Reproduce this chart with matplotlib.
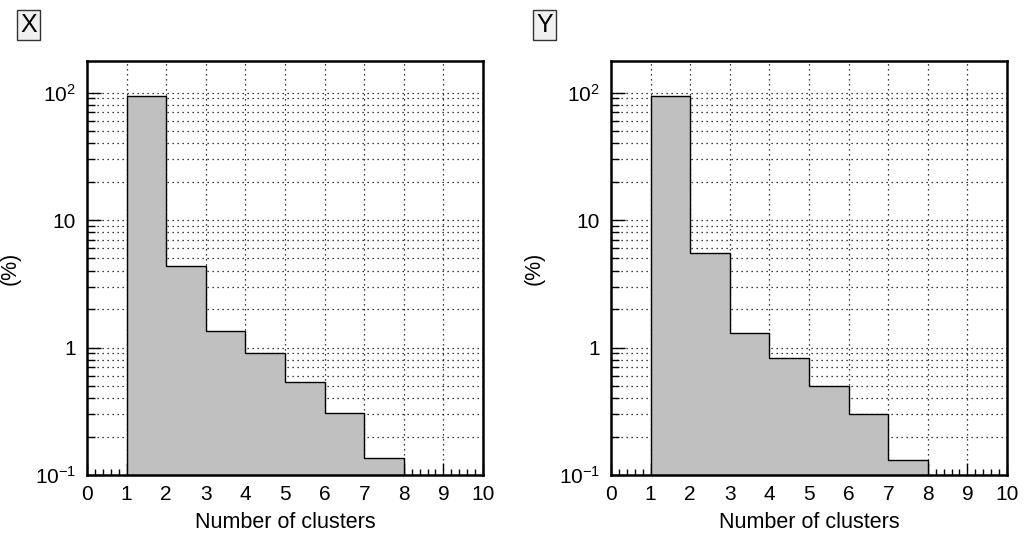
import numpy as np
import matplotlib.pyplot as plt
from matplotlib.ticker import FixedLocator, MultipleLocator, NullFormatter

plt.rcParams['font.family'] = ['Liberation Sans', 'DejaVu Sans']
plt.rcParams['mathtext.fontset'] = 'custom'
plt.rcParams['mathtext.rm'] = 'Liberation Sans'
plt.rcParams['mathtext.it'] = 'Liberation Sans:italic'

# bin edges (number of clusters) and percentages per bin
edges = [1, 2, 3, 4, 5, 6, 7, 8]
pct_x = [94.0, 4.4, 1.35, 0.90, 0.54, 0.305, 0.137]
pct_y = [94.0, 5.5, 1.29, 0.83, 0.50, 0.30, 0.13]
panel_names = ['X', 'Y']

ytick_vals = [0.1, 1, 10, 100]
ytick_labels = ['$10^{-1}$', '1', '10', '$10^{2}$']

fig = plt.figure(figsize=(10.31, 5.35), dpi=100)
lefts = [87 / 1031, 611 / 1031]
box_x = [20 / 1031, 536 / 1031]

minor_y = [m * 10.0 ** e for e in range(-1, 3) for m in range(2, 10)]

for i, (name, vals) in enumerate(zip(panel_names, [pct_x, pct_y])):
    ax = fig.add_axes([lefts[i], 60 / 535, 396 / 1031, 414 / 535])
    ax.set_yscale('log')
    ax.set_xlim(0, 10)
    ax.set_ylim(0.1, 177)
    ax.set_axisbelow(True)

    ax.stairs(vals, edges, baseline=1e-3, fill=True,
              facecolor='#c0c0c0', edgecolor='black', linewidth=1.0)

    # dotted grid, vertical at integers, horizontal at every log step
    for xv in range(1, 10):
        ax.axvline(xv, color='black', linestyle=(0, (1, 3)), linewidth=0.9, zorder=0.5)
    for yv in ytick_vals[1:] + minor_y:
        ax.axhline(yv, color='black', linestyle=(0, (1, 3)), linewidth=0.9, zorder=0.5)

    ax.yaxis.set_major_locator(FixedLocator(ytick_vals))
    ax.set_yticklabels(ytick_labels)
    ax.yaxis.set_minor_locator(FixedLocator(minor_y))
    ax.yaxis.set_minor_formatter(NullFormatter())
    ax.xaxis.set_major_locator(MultipleLocator(1))
    ax.xaxis.set_minor_locator(MultipleLocator(0.2))

    ax.tick_params(which='both', direction='in', top=False, right=False,
                   labelsize=15, width=1.0)
    ax.tick_params(axis='y', which='major', length=10, pad=8)
    ax.tick_params(axis='y', which='minor', length=5.5)
    ax.tick_params(axis='x', which='major', length=9, pad=7)
    ax.tick_params(axis='x', which='minor', length=4.5)
    for sp in ax.spines.values():
        sp.set_linewidth(1.8)

    ax.set_xlabel('Number of clusters', fontsize=15.5, labelpad=6)
    ax.set_ylabel('(%)', fontsize=15.5)
    ax.yaxis.set_label_coords(-0.168, 0.5)

    fig.text(box_x[i], 1 - 24.5 / 535, name, fontsize=18, ha='left', va='center',
             bbox=dict(boxstyle='square,pad=0.12', facecolor='#f0f0f0',
                       edgecolor='#333333', linewidth=1.0))

fig.savefig('out.png', dpi=100)
